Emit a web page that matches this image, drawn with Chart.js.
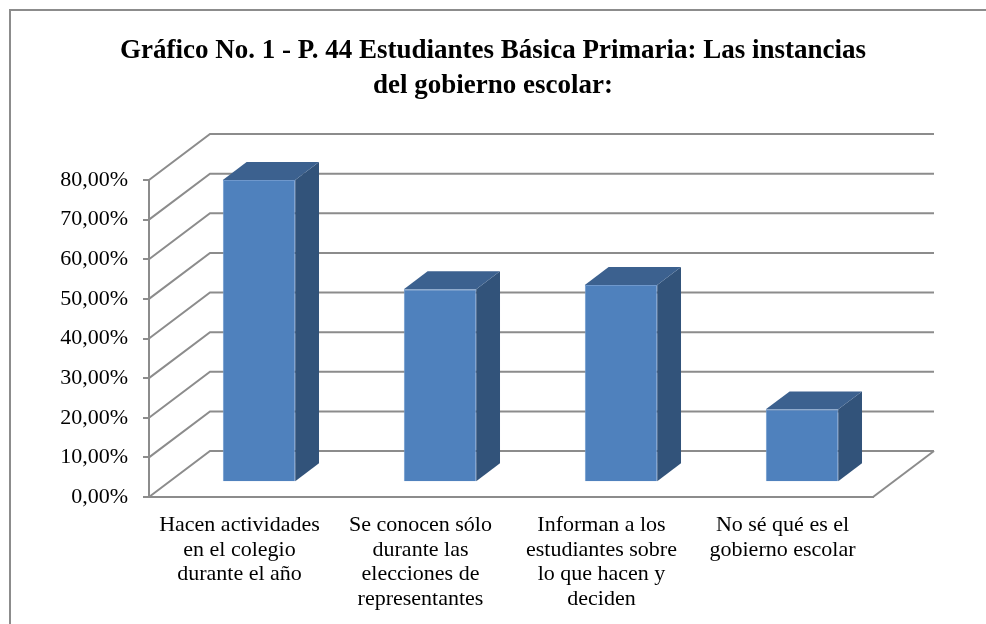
<!DOCTYPE html>
<html>
<head>
<meta charset="utf-8">
<script src="https://cdn.jsdelivr.net/npm/chart.js@4"></script>
<style>
  html, body { margin: 0; padding: 0; background: #fff; overflow: hidden; }
  #caja { position: relative; width: 986px; height: 624px; }
</style>
</head>
<body>
<div id="caja"><canvas id="grafico"></canvas></div>
<script>
// datos del grafico
const categorias = [
  ["Hacen actividades", "en el colegio", "durante el año"],
  ["Se conocen sólo", "durante las", "elecciones de", "representantes"],
  ["Informan a los", "estudiantes sobre", "lo que hacen y", "deciden"],
  ["No sé qué es el", "gobierno escolar"]
];
const porcentajes = [76.3, 48.7, 49.8, 18.4];
const titulo = ["Gráfico No. 1 - P. 44 Estudiantes Básica Primaria: Las instancias", "del gobierno escolar:"];

// profundidad de la caja 3D (en pixeles)
const PROF_X = 61, PROF_Y = -46;
const BARRA_POS = 0.32, BARRA_PROF = 0.39;
const GRIS = "#8c8c8c";

const efecto3D = {
  id: "efecto3D",
  beforeDraw(chart) {
    const ctx = chart.ctx;
    ctx.save();
    ctx.strokeStyle = GRIS;
    ctx.lineWidth = 2;
    ctx.strokeRect(10, 10, 1000, 700);
    ctx.restore();
  },
  beforeDatasetsDraw(chart) {
    const { ctx, chartArea: a, scales: { y } } = chart;
    ctx.save();
    ctx.strokeStyle = GRIS;
    ctx.lineWidth = 2;
    y.ticks.forEach(t => {
      const py = y.getPixelForValue(t.value);
      ctx.beginPath();
      ctx.moveTo(a.left, py);
      ctx.lineTo(a.left + PROF_X, py + PROF_Y);
      ctx.lineTo(a.right + PROF_X, py + PROF_Y);
      ctx.stroke();
    });
    // borde derecho del piso
    const p0 = y.getPixelForValue(0);
    ctx.beginPath();
    ctx.moveTo(a.right, p0);
    ctx.lineTo(a.right + PROF_X, p0 + PROF_Y);
    ctx.stroke();
    ctx.restore();

    // las barras van a media profundidad
    ctx.save();
    ctx.translate(PROF_X * BARRA_POS, PROF_Y * BARRA_POS);
  },
  afterDatasetsDraw(chart) {
    const ctx = chart.ctx;
    const dx = PROF_X * BARRA_PROF, dy = PROF_Y * BARRA_PROF;
    chart.getDatasetMeta(0).data.forEach(bar => {
      const { x, y, base, width } = bar.getProps(["x", "y", "base", "width"], true);
      const l = x - width / 2, r = x + width / 2;
      // lado
      ctx.fillStyle = "#32537A";
      ctx.beginPath();
      ctx.moveTo(r, y);
      ctx.lineTo(r + dx, y + dy);
      ctx.lineTo(r + dx, base + dy);
      ctx.lineTo(r, base);
      ctx.closePath();
      ctx.fill();
      // tapa
      ctx.fillStyle = "#3C618F";
      ctx.beginPath();
      ctx.moveTo(l, y);
      ctx.lineTo(l + dx, y + dy);
      ctx.lineTo(r + dx, y + dy);
      ctx.lineTo(r, y);
      ctx.closePath();
      ctx.fill();
    });
    ctx.restore();
  }
};

const fuente = "'Liberation Serif', 'Times New Roman', serif";

new Chart(document.getElementById("grafico").getContext("2d"), {
  type: "bar",
  data: {
    labels: categorias,
    datasets: [{
      data: porcentajes,
      backgroundColor: "#4F81BD",
      borderColor: "#6f98cc",
      borderWidth: 1,
      barPercentage: 0.4,
      categoryPercentage: 1
    }]
  },
  options: {
    responsive: true,
    maintainAspectRatio: false,
    animation: false,
    layout: { padding: { left: 10, right: 10, top: 10, bottom: 0 } },
    plugins: {
      legend: { display: false },
      tooltip: { enabled: false },
      title: {
        display: true,
        text: titulo,
        color: "#000",
        font: { family: fuente, size: 27, weight: "bold", lineHeight: 35 / 27 },
        padding: { top: 24, bottom: 76 }
      }
    },
    scales: {
      x: {
        grid: { display: true, drawOnChartArea: false, drawTicks: false },
        border: { display: true, color: GRIS, width: 2 },
        ticks: {
          color: "#000",
          padding: 16,
          maxRotation: 0,
          autoSkip: false,
          font: { family: fuente, size: 22, lineHeight: 24.5 / 22 }
        },
        afterFit: s => { s.height = 127; }
      },
      y: {
        min: 0,
        max: 80,
        ticks: {
          stepSize: 10,
          color: "#000",
          padding: 15,
          font: { family: fuente, size: 22 },
          callback: v => v.toFixed(2).replace(".", ",") + "%"
        },
        grid: { drawOnChartArea: false, drawTicks: true, tickLength: 6, color: GRIS, lineWidth: 2 },
        border: { display: true, color: GRIS, width: 2 },
        afterFit: s => { s.width = 139; }
      },
      derecha: {
        position: "right",
        display: true,
        grid: { display: false },
        border: { display: false },
        ticks: { display: false },
        afterFit: s => { s.width = 103; }
      }
    }
  },
  plugins: [efecto3D]
});
</script>
</body>
</html>
